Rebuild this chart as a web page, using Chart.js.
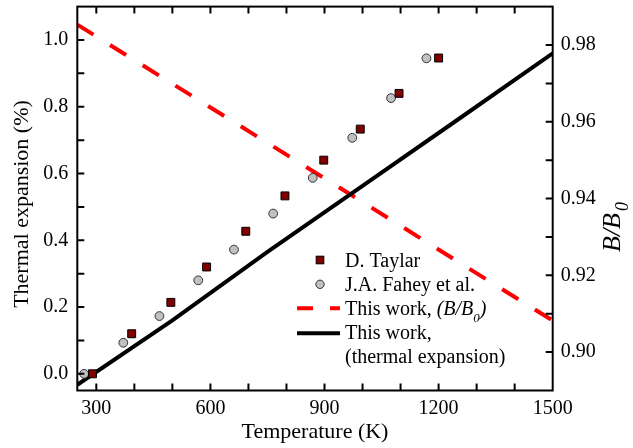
<!DOCTYPE html>
<html>
<head>
<meta charset="utf-8">
<script src="https://cdn.jsdelivr.net/npm/chart.js@4.4.1/dist/chart.umd.min.js"></script>
<style>
  html, body { margin: 0; padding: 0; background: #fff; }
  #wrap { width: 633px; height: 448px; }
  .preload { position: absolute; left: -999px; top: 0; font-family: "Liberation Serif"; }
</style>
</head>
<body>
<span class="preload">Serif <i>italic</i></span>
<div id="wrap"><canvas id="expansionChart" width="633" height="448"></canvas></div>
<script>
// D. Taylar: temperature (K) and thermal expansion (%)
const taylarT = [290, 393, 496, 590, 693, 796, 898, 994, 1096, 1200];
const taylarExp = [0.0, 0.12, 0.214, 0.32, 0.427, 0.533, 0.64, 0.733, 0.84, 0.946];

// J.A. Fahey et al.
const faheyT = [268, 371, 466, 568, 662, 765, 869, 973, 1075, 1168];
const faheyExp = [0.0, 0.093, 0.173, 0.28, 0.372, 0.48, 0.587, 0.707, 0.826, 0.945];

// This work, thermal expansion (left axis)
const calcT = [250, 500, 750, 1000, 1250, 1500];
const calcExp = [-0.033, 0.16, 0.365, 0.563, 0.761, 0.96];

// This work, B/B0 (right axis)
const bulkT = [250, 500, 750, 1000, 1250, 1500];
const bulkRatio = [0.9853, 0.9699, 0.9545, 0.9391, 0.9236, 0.9082];

// tick labels and tick marks
const xTicks = [300, 600, 900, 1200, 1500];
const yTicks = [0.0, 0.2, 0.4, 0.6, 0.8, 1.0];
const y2Ticks = [0.90, 0.92, 0.94, 0.96, 0.98];
const xMarks = [300, 400, 500, 600, 700, 800, 900, 1000, 1100, 1200, 1300, 1400];
const yMarks = [0.0, 0.1, 0.2, 0.3, 0.4, 0.5, 0.6, 0.7, 0.8, 0.9, 1.0];
const y2Marks = [0.90, 0.91, 0.92, 0.93, 0.94, 0.95, 0.96, 0.97, 0.98];

const FONT = '"Liberation Serif", Tinos, "Times New Roman", "DejaVu Serif", serif';
const pts = (xs, ys) => xs.map((x, i) => ({ x: x, y: ys[i] }));

// frame, inward ticks, axis titles and legend
const decorations = {
  id: 'decorations',
  afterDraw(chart) {
    const { ctx, chartArea: a, scales } = chart;
    const tick = 7;
    ctx.save();
    ctx.strokeStyle = '#000';
    ctx.lineWidth = 2;
    ctx.strokeRect(a.left, a.top, a.right - a.left, a.bottom - a.top);

    ctx.beginPath();
    xMarks.forEach(v => {
      const px = scales.x.getPixelForValue(v);
      ctx.moveTo(px, a.bottom); ctx.lineTo(px, a.bottom - tick);
      ctx.moveTo(px, a.top); ctx.lineTo(px, a.top + tick);
    });
    yMarks.forEach(v => {
      const py = scales.y.getPixelForValue(v);
      ctx.moveTo(a.left, py); ctx.lineTo(a.left + tick, py);
    });
    y2Marks.forEach(v => {
      const py = scales.y2.getPixelForValue(v);
      ctx.moveTo(a.right, py); ctx.lineTo(a.right - tick, py);
    });
    ctx.stroke();

    // axis titles
    ctx.fillStyle = '#000';
    ctx.font = '22px ' + FONT;
    ctx.textAlign = 'center';
    ctx.textBaseline = 'alphabetic';
    ctx.fillText('Temperature (K)', (a.left + a.right) / 2, 437.5);

    ctx.save();
    ctx.translate(28.3, 204);
    ctx.rotate(-Math.PI / 2);
    ctx.fillText('Thermal expansion (%)', 0, 0);
    ctx.restore();

    ctx.save();
    ctx.translate(620, 252);
    ctx.rotate(-Math.PI / 2);
    ctx.textAlign = 'left';
    ctx.font = 'italic 26px ' + FONT;
    ctx.fillText('B/B', 0, 0);
    const w = ctx.measureText('B/B').width;
    ctx.font = 'italic 18px ' + FONT;
    ctx.fillText('0', w + 2, 8);
    ctx.restore();

    // legend
    const lx = 297, lx2 = 340, tx = 345;
    const rows = [266.5, 290.7, 315, 339.2, 363.4];
    ctx.textAlign = 'left';
    ctx.font = '20px ' + FONT;

    ctx.lineWidth = 1;
    ctx.fillStyle = '#800000';
    ctx.fillRect(316.2, rows[0] - 10.3, 7.6, 7.6);
    ctx.strokeRect(316.2, rows[0] - 10.3, 7.6, 7.6);

    ctx.beginPath();
    ctx.arc(320, rows[1] - 6.4, 4.2, 0, Math.PI * 2);
    ctx.fillStyle = '#c0c0c0';
    ctx.fill();
    ctx.strokeStyle = '#333';
    ctx.stroke();

    ctx.lineWidth = 4;
    ctx.strokeStyle = '#ff0000';
    ctx.setLineDash([16, 17]);
    ctx.beginPath();
    ctx.moveTo(lx, rows[2] - 6.7); ctx.lineTo(lx2, rows[2] - 6.7);
    ctx.stroke();
    ctx.setLineDash([]);

    ctx.strokeStyle = '#000';
    ctx.beginPath();
    ctx.moveTo(lx, rows[3] - 6); ctx.lineTo(lx2, rows[3] - 6);
    ctx.stroke();

    ctx.fillStyle = '#000';
    ctx.fillText('D. Taylar', tx, rows[0]);
    ctx.fillText('J.A. Fahey et al.', tx, rows[1]);
    ctx.fillText('This work, ', tx, rows[2]);
    let cx = tx + ctx.measureText('This work, ').width;
    ctx.font = 'italic 20px ' + FONT;
    ctx.fillText('(B/B', cx, rows[2]);
    cx += ctx.measureText('(B/B').width;
    ctx.font = 'italic 13px ' + FONT;
    ctx.fillText('0', cx, rows[2] + 6.5);
    cx += ctx.measureText('0').width;
    ctx.font = 'italic 20px ' + FONT;
    ctx.fillText(')', cx, rows[2]);
    ctx.font = '20px ' + FONT;
    ctx.fillText('This work,', tx, rows[3]);
    ctx.fillText('(thermal expansion)', tx, rows[4]);
    ctx.restore();
  }
};

// drop the automatic label overhang so the plot area keeps its fixed edges
const noOverhang = s => {
  s.paddingTop = 0; s.paddingBottom = 0; s.paddingLeft = 0; s.paddingRight = 0;
};

const tickFont = { family: FONT, size: 20 };

function drawChart() {
  new Chart(document.getElementById('expansionChart').getContext('2d'), {
    type: 'scatter',
    data: {
      datasets: [
        {
          label: 'D. Taylar',
          data: pts(taylarT, taylarExp),
          yAxisID: 'y',
          pointStyle: 'rect',
          pointRadius: 5.6,
          backgroundColor: '#800000',
          borderColor: '#000',
          borderWidth: 1
        },
        {
          label: 'J.A. Fahey et al.',
          data: pts(faheyT, faheyExp),
          yAxisID: 'y',
          pointStyle: 'circle',
          pointRadius: 4.4,
          backgroundColor: '#c0c0c0',
          borderColor: '#333',
          borderWidth: 1
        },
        {
          label: 'This work, (thermal expansion)',
          data: pts(calcT, calcExp),
          yAxisID: 'y',
          showLine: true,
          pointRadius: 0,
          borderColor: '#000',
          borderWidth: 4,
          tension: 0
        },
        {
          label: 'This work, (B/B0)',
          data: pts(bulkT, bulkRatio),
          yAxisID: 'y2',
          showLine: true,
          pointRadius: 0,
          borderColor: '#ff0000',
          borderWidth: 4,
          borderDash: [19, 19.5],
          tension: 0
        }
      ]
    },
    options: {
      responsive: false,
      animation: false,
      layout: { padding: { top: 4, left: 0, right: 0, bottom: 0 } },
      plugins: { legend: { display: false }, tooltip: { enabled: false } },
      scales: {
        x: {
          type: 'linear',
          position: 'bottom',
          min: 250,
          max: 1500,
          afterBuildTicks: s => { s.ticks = xTicks.map(v => ({ value: v })); },
          afterFit: s => { s.height = 57.5; noOverhang(s); },
          grid: { display: false, drawTicks: false },
          border: { display: false },
          ticks: { padding: 6, font: tickFont, color: '#000', maxRotation: 0, autoSkip: false,
                   callback: v => String(v) }
        },
        y: {
          type: 'linear',
          position: 'left',
          min: -0.05,
          max: 1.10,
          afterBuildTicks: s => { s.ticks = yTicks.map(v => ({ value: v })); },
          afterFit: s => { s.width = 77.3; noOverhang(s); },
          grid: { display: false, drawTicks: false },
          border: { display: false },
          ticks: { padding: 9, font: tickFont, color: '#000', callback: v => v.toFixed(1) }
        },
        y2: {
          type: 'linear',
          position: 'right',
          min: 0.89,
          max: 0.99,
          afterBuildTicks: s => { s.ticks = y2Ticks.map(v => ({ value: v })); },
          afterFit: s => { s.width = 80.3; noOverhang(s); },
          grid: { display: false, drawTicks: false },
          border: { display: false },
          ticks: { padding: 8, font: tickFont, color: '#000', callback: v => v.toFixed(2) }
        }
      }
    },
    plugins: [decorations]
  });
}

Promise.all([
  document.fonts.load('20px "Liberation Serif"'),
  document.fonts.load('italic 20px "Liberation Serif"')
]).then(drawChart, drawChart);
</script>
</body>
</html>
